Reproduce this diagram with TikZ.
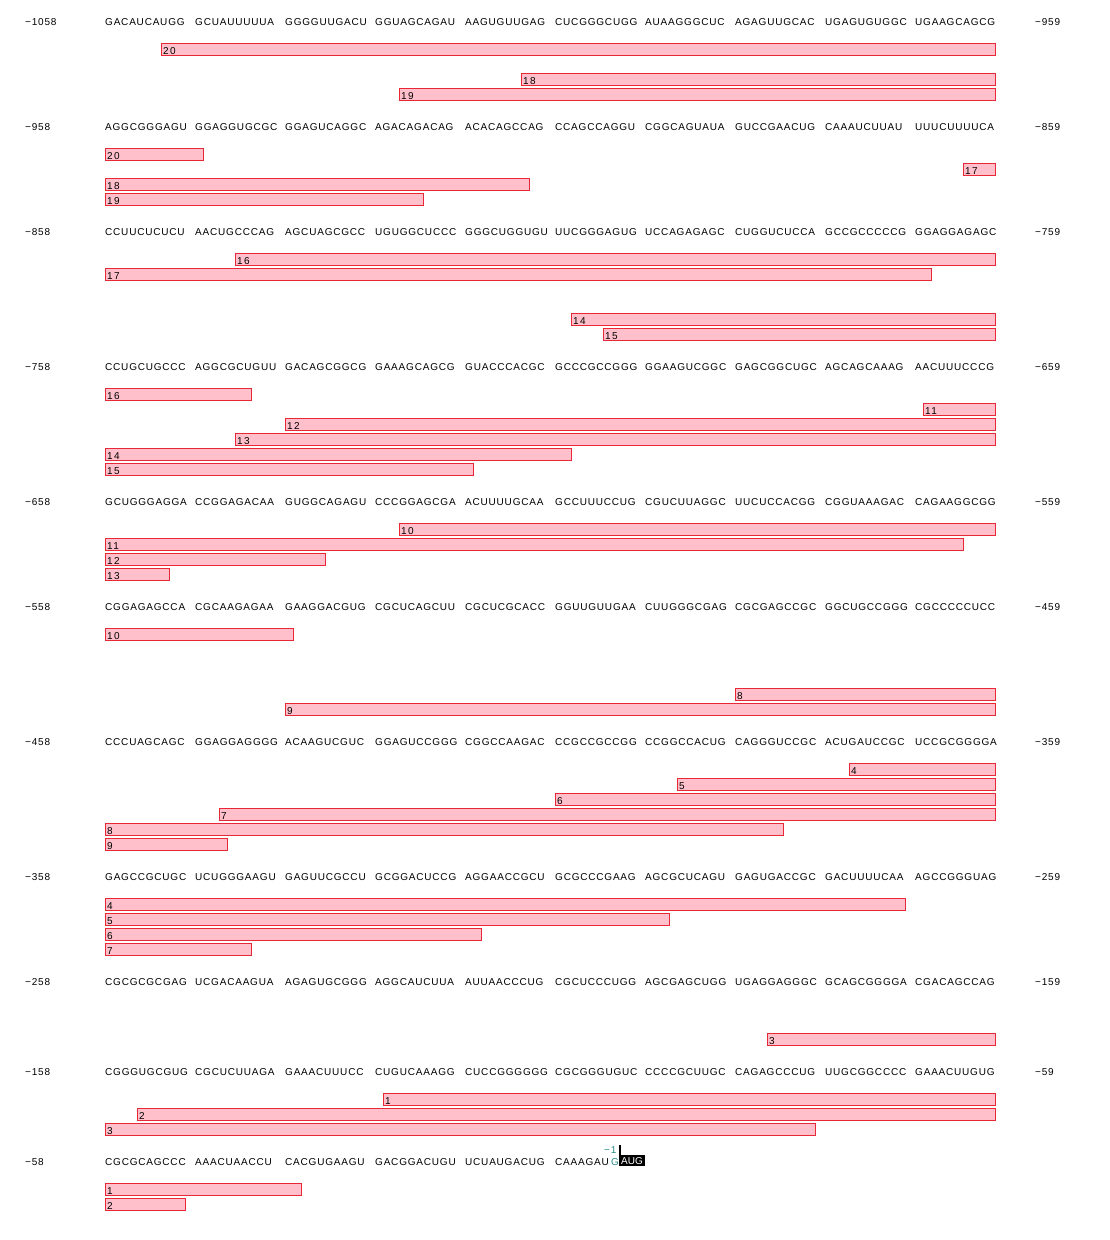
\documentclass[tikz,border=0pt]{standalone}
\usepackage{fontspec}
\setmainfont{Liberation Sans}
\usetikzlibrary{positioning}
\definecolor{hitfill}{RGB}{255,192,203}
\definecolor{hitedge}{RGB}{232,40,55}
\definecolor{tsscol}{RGB}{40,140,130}

\begin{document}
\begin{tikzpicture}[
  x=1pt, y=-1pt,
  seqblock/.style={anchor=base west, inner sep=0pt, font=\fontsize{10}{12}\selectfont\addfontfeature{LetterSpace=8}},
  poslabel/.style={anchor=base west, inner sep=0pt, font=\fontsize{10}{12}\selectfont\addfontfeature{LetterSpace=8}},
  hitbar/.style={draw=hitedge, fill=hitfill, line width=0.9pt},
  hitlabel/.style={anchor=base west, inner sep=0pt, font=\fontsize{10}{11}\selectfont\addfontfeature{LetterSpace=14}},
  startcodon/.style={anchor=base, inner sep=0pt, text=white, font=\fontsize{10}{12}\selectfont},
  tsslabel/.style={anchor=base west, inner sep=0pt, text=tsscol, font=\fontsize{10}{12}\selectfont\addfontfeature{LetterSpace=8}}
]
  \useasboundingbox (0,0) rectangle (1110,1240);
  \foreach \r/\yy/\lpos/\rpos/\blocks in {
    a/21/{−1058}/{−959}/{GACAUCAUGG,GCUAUUUUUA,GGGGUUGACU,GGUAGCAGAU,AAGUGUUGAG,CUCGGGCUGG,AUAAGGGCUC,AGAGUUGCAC,UGAGUGUGGC,UGAAGCAGCG},
    b/126/{−958}/{−859}/{AGGCGGGAGU,GGAGGUGCGC,GGAGUCAGGC,AGACAGACAG,ACACAGCCAG,CCAGCCAGGU,CGGCAGUAUA,GUCCGAACUG,CAAAUCUUAU,UUUCUUUUCA},
    c/231/{−858}/{−759}/{CCUUCUCUCU,AACUGCCCAG,AGCUAGCGCC,UGUGGCUCCC,GGGCUGGUGU,UUCGGGAGUG,UCCAGAGAGC,CUGGUCUCCA,GCCGCCCCCG,GGAGGAGAGC},
    d/366/{−758}/{−659}/{CCUGCUGCCC,AGGCGCUGUU,GACAGCGGCG,GAAAGCAGCG,GUACCCACGC,GCCCGCCGGG,GGAAGUCGGC,GAGCGGCUGC,AGCAGCAAAG,AACUUUCCCG},
    e/501/{−658}/{−559}/{GCUGGGAGGA,CCGGAGACAA,GUGGCAGAGU,CCCGGAGCGA,ACUUUUGCAA,GCCUUUCCUG,CGUCUUAGGC,UUCUCCACGG,CGGUAAAGAC,CAGAAGGCGG},
    f/606/{−558}/{−459}/{CGGAGAGCCA,CGCAAGAGAA,GAAGGACGUG,CGCUCAGCUU,CGCUCGCACC,GGUUGUUGAA,CUUGGGCGAG,CGCGAGCCGC,GGCUGCCGGG,CGCCCCCUCC},
    g/741/{−458}/{−359}/{CCCUAGCAGC,GGAGGAGGGG,ACAAGUCGUC,GGAGUCCGGG,CGGCCAAGAC,CCGCCGCCGG,CCGGCCACUG,CAGGGUCCGC,ACUGAUCCGC,UCCGCGGGGA},
    h/876/{−358}/{−259}/{GAGCCGCUGC,UCUGGGAAGU,GAGUUCGCCU,GCGGACUCCG,AGGAACCGCU,GCGCCCGAAG,AGCGCUCAGU,GAGUGACCGC,GACUUUUCAA,AGCCGGGUAG},
    i/981/{−258}/{−159}/{CGCGCGCGAG,UCGACAAGUA,AGAGUGCGGG,AGGCAUCUUA,AUUAACCCUG,CGCUCCCUGG,AGCGAGCUGG,UGAGGAGGGC,GCAGCGGGGA,CGACAGCCAG},
    j/1071/{−158}/{−59}/{CGGGUGCGUG,CGCUCUUAGA,GAAACUUUCC,CUGUCAAAGG,CUCCGGGGGG,CGCGGGUGUC,CCCCGCUUGC,CAGAGCCCUG,UUGCGGCCCC,GAAACUUGUG},
    k/1161/{−58}/{}/{CGCGCAGCCC,AAACUAACCU,CACGUGAAGU,GACGGACUGU,UCUAUGACUG}%
  }{
    \node[poslabel] (l\r) at (25,\yy+4) {\lpos};
    \node[poslabel] (r\r) at (1035,\yy+4) {\rpos};
    \foreach \b [count=\i from 0] in \blocks
      \node[seqblock] (s\r\i) at (105+90*\i,\yy+4) {\b};
  }
  \foreach \xa/\xb/\ya/\lab [count=\n] in {
    161/995/43/20, 521/995/73/18, 399/995/88/19,
    105/203/148/20, 963/995/163/17, 105/529/178/18, 105/423/193/19,
    235/995/253/16, 105/931/268/17, 571/995/313/14, 603/995/328/15,
    105/251/388/16, 923/995/403/11, 285/995/418/12, 235/995/433/13, 105/571/448/14, 105/473/463/15,
    399/995/523/10, 105/963/538/11, 105/325/553/12, 105/169/568/13,
    105/293/628/10, 735/995/688/8, 285/995/703/9,
    849/995/763/4, 677/995/778/5, 555/995/793/6, 219/995/808/7, 105/783/823/8, 105/227/838/9,
    105/905/898/4, 105/669/913/5, 105/481/928/6, 105/251/943/7,
    767/995/1033/3,
    383/995/1093/1, 137/995/1108/2, 105/815/1123/3,
    105/301/1183/1, 105/185/1198/2%
  }{
    \draw[hitbar] (\xa,\ya) rectangle (\xb,\ya+12);
    \node[hitlabel] (h\n) at (\xa+2,\ya+11.5) {\lab};
  }
  \node[seqblock] (sk5) at (555,1165) {CAAAGAU};
  \node[tsslabel] (tss) at (611,1165) {G};
  \fill (619,1155) rectangle (645,1166);
  \node[startcodon] (aug) at (632,1164.5) {AUG};
  \draw[line width=2pt] (620,1145) -- (620,1156);
  \node[tsslabel] (m1) at (604,1153) {−1};
\end{tikzpicture}
\end{document}
